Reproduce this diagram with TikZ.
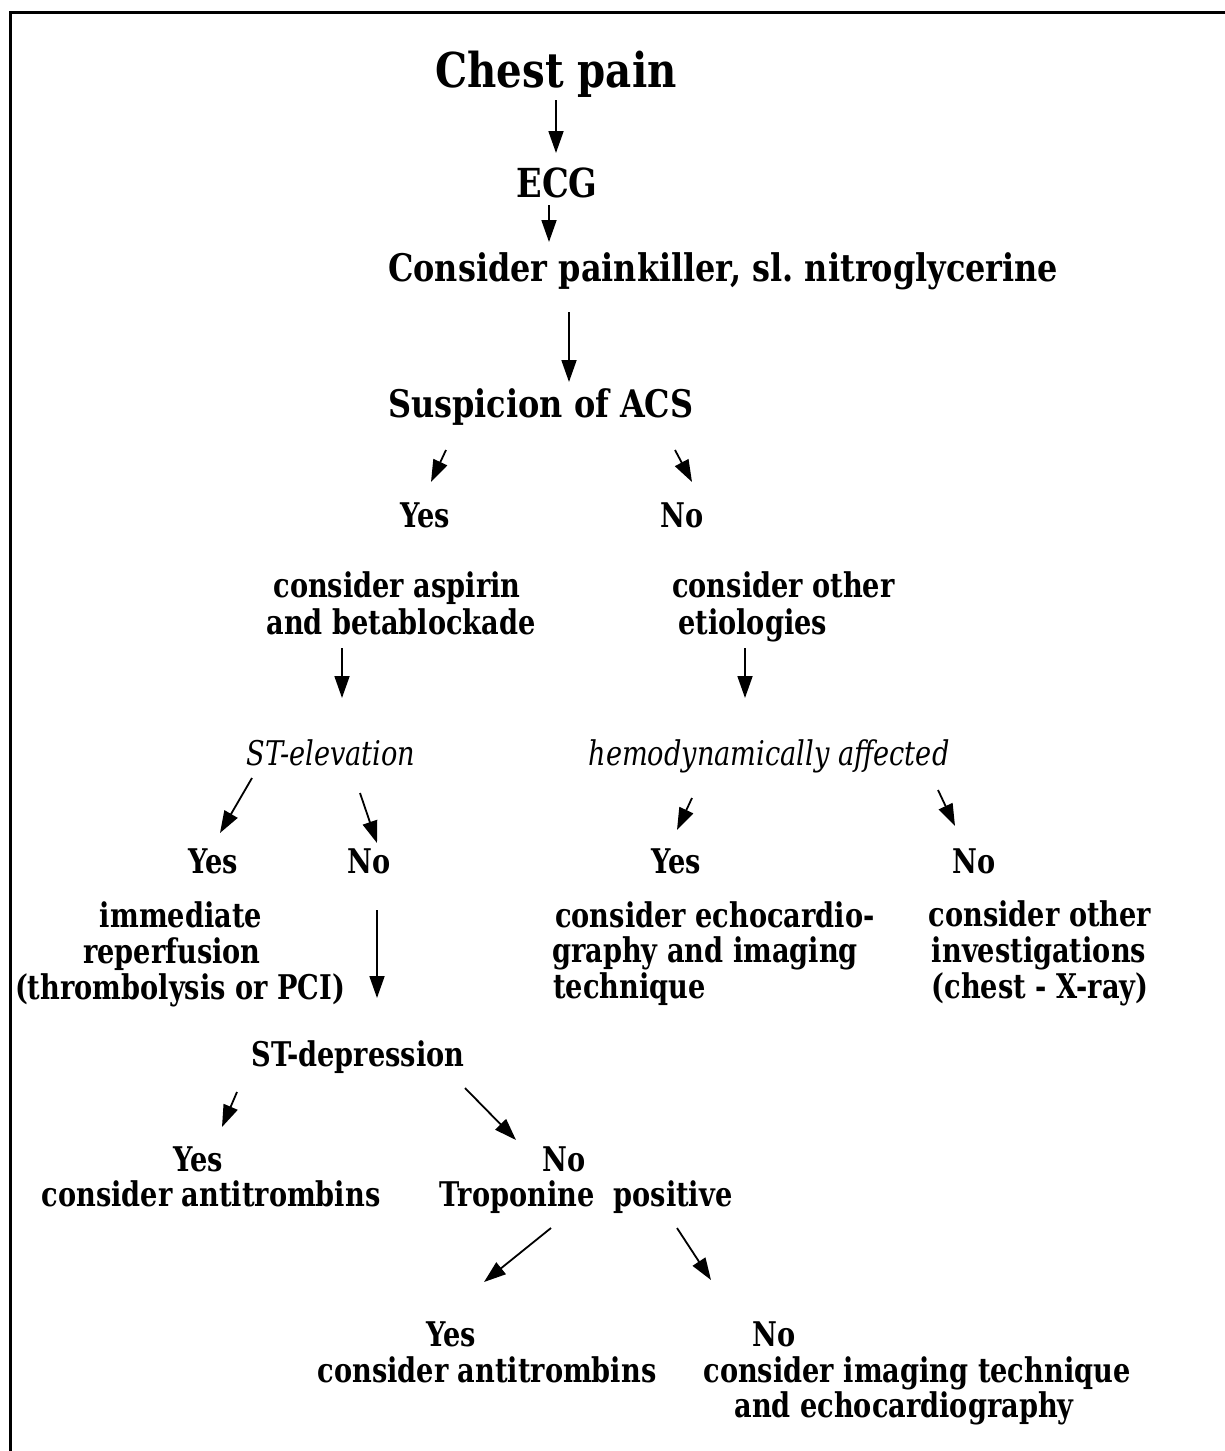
\documentclass[tikz,border=0pt]{standalone}
\usepackage{fontspec}
\setmainfont{DejaVu Serif}[FakeStretch=0.8]
\newfontfamily\headfont{DejaVu Serif}[FakeStretch=0.84]
\usetikzlibrary{arrows.meta,calc}
\begin{document}
\frenchspacing
\begin{tikzpicture}[x=1pt,y=-1pt,
  lbl/.style={inner sep=0pt,anchor=base,font=\fontsize{34}{40}\selectfont\bfseries},
  lblw/.style={lbl,anchor=base west},
  head/.style={inner sep=0pt,anchor=base,font=\headfont\fontsize{38}{44}\selectfont\bfseries},
  headw/.style={head,anchor=base west},
  itl/.style={inner sep=0pt,anchor=base,font=\fontsize{34}{40}\selectfont\itshape},
  big/.style={inner sep=0pt,anchor=base,font=\headfont\fontsize{48}{54}\selectfont\bfseries},
  arr/.style={line width=1.8pt,-{Triangle[length=22pt,width=15pt]}},
  frame/.style={line width=3pt}]
\clip (0,0) rectangle (1225,1451);
\draw[frame] (10,12) rectangle (1240,1470);
% nodes
\node[big] (chest) at (556,87) {Chest pain};
\node[head,font=\headfont\fontsize{40}{44}\selectfont\bfseries] (ecg) at (557,197) {ECG};
\node[headw] (cons) at (388,281) {Consider painkiller, sl. nitroglycerine};
\node[headw] (acs) at (388,417) {Suspicion of ACS};
\node[lbl] (yes1) at (425,527) {Yes};
\node[lbl] (no1) at (682,527) {No};
\node[lbl] (asp1) at (397,597) {consider aspirin};
\node[lbl] (asp2) at (401,634) {and betablockade};
\node[lblw] (oth1) at (672,597) {consider other};
\node[lblw] (oth2) at (678,634) {etiologies};
\node[itl] (stel) at (331,765) {ST-elevation};
\node[itl] (hemo) at (769,765) {hemodynamically affected};
\node[lbl] (yes2) at (213,873) {Yes};
\node[lbl] (no2) at (369,873) {No};
\node[lbl] (yes3) at (676,873) {Yes};
\node[lbl] (no3) at (974,873) {No};
\node[lbl] (imm1) at (181,927) {immediate};
\node[lbl] (imm2) at (172,963) {reperfusion};
\node[lbl] (imm3) at (180,999) {(thrombolysis or PCI)};
\node[lblw] (echo1) at (555,927) {consider echocardio-};
\node[lblw] (echo2) at (552,962) {graphy and imaging};
\node[lblw] (echo3) at (553,998) {technique};
\node[lbl] (inv1) at (1040,926) {consider other};
\node[lbl] (inv2) at (1039,962) {investigations};
\node[lbl] (inv3) at (1040,998) {(chest - X-ray)};
\node[lbl] (std) at (358,1066) {ST-depression};
\node[lbl] (yes4) at (198,1171) {Yes};
\node[lbl] (anti1) at (211,1206) {consider antitrombins};
\node[lbl] (no4) at (564,1171) {No};
\node[lbl] (trop) at (586,1206) {Troponine\ \ positive};
\node[lbl] (yes5) at (451,1346) {Yes};
\node[lbl] (anti2) at (487,1382) {consider antitrombins};
\node[lbl] (no5) at (774,1346) {No};
\node[lbl] (img1) at (917,1382) {consider imaging technique};
\node[lbl] (img2) at (904,1417) {and echocardiography};
% connectors
\draw[arr] ($(chest.base)+(0,13)$) -- ($(ecg.base)+(-1,-44)$);
\draw[arr] ($(ecg.base)+(-8,8)$) -- ($(cons.base west)+(161,-39)$);
\draw[arr] ($(cons.base west)+(181,31)$) -- ($(acs.base west)+(181,-35)$);
\draw[arr] ($(acs.base west)+(58,33)$) -- ($(yes1.base)+(6,-45)$);
\draw[arr] ($(acs.base west)+(287,33)$) -- ($(no1.base)+(10,-45)$);
\draw[arr] ($(asp2.base)+(-59,14)$) -- ($(stel.base)+(11,-67)$);
\draw[arr] ($(oth2.base west)+(67,14)$) -- ($(hemo.base)+(-24,-67)$);
\draw[arr] ($(stel.base)+(-79,13)$) -- ($(yes2.base)+(7,-40)$);
\draw[arr] ($(stel.base)+(29,28)$) -- ($(no2.base)+(8,-30)$);
\draw[arr] ($(hemo.base)+(-77,33)$) -- ($(yes3.base)+(1,-43)$);
\draw[arr] ($(hemo.base)+(169,25)$) -- ($(no3.base)+(-19,-47)$);
\draw[arr] ($(no2.base)+(8,37)$) -- ($(std.base)+(19,-68)$);
\draw[arr] ($(std.base)+(-121,26)$) -- ($(yes4.base)+(24,-44)$);
\draw[arr] ($(std.base)+(107,22)$) -- ($(no4.base)+(-48,-31)$);
\draw[arr] ($(trop.base)+(-35,22)$) -- ($(yes5.base)+(33,-64)$);
\draw[arr] ($(trop.base)+(91,22)$) -- ($(no5.base)+(-63,-66)$);
\end{tikzpicture}
\end{document}
